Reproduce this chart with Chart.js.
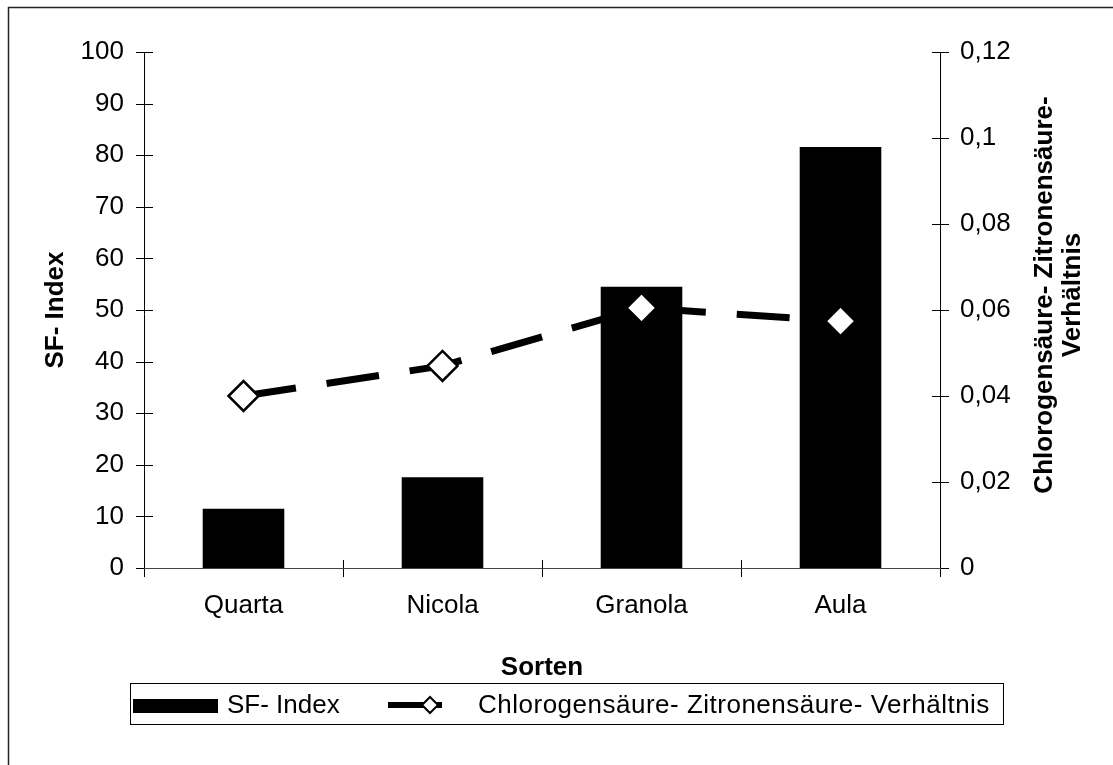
<!DOCTYPE html>
<html><head><meta charset="utf-8">
<script src="https://cdn.jsdelivr.net/npm/chart.js@4"></script>
<style>html,body{margin:0;padding:0;background:#fff;overflow:hidden}#wrap{position:relative;width:1113px;height:765px}</style>
</head><body><div id="wrap"><canvas id="c" width="1113" height="765"></canvas></div>
<script>
const categories = ['Quarta', 'Nicola', 'Granola', 'Aula'];
const sfIndex = [11.5, 17.6, 54.5, 81.6];
const ratio = [0.040, 0.047, 0.0605, 0.0574];
const leftTickLabels = ['0', '10', '20', '30', '40', '50', '60', '70', '80', '90', '100'];
const rightTickLabels = ['0', '0,02', '0,04', '0,06', '0,08', '0,1', '0,12'];
const seriesNames = ['SF- Index', 'Chlorogensäure- Zitronensäure- Verhältnis'];
const xTitle = 'Sorten';
const yLeftTitle = 'SF- Index';
const yRightTitle = ['Chlorogensäure- Zitronensäure-', 'Verhältnis'];

const FAM = '"Liberation Sans", Arial, sans-serif';
Chart.defaults.font.family = FAM;
Chart.defaults.color = '#000';

const deco = {
  id: 'deco',
  beforeDraw(chart) {
    const ctx = chart.ctx;
    ctx.save();
    ctx.fillStyle = '#fff';
    ctx.fillRect(0, 0, chart.width, chart.height);
    ctx.strokeStyle = '#222';
    ctx.lineWidth = 1.5;
    ctx.strokeRect(8.5, 7.5, 1300, 1000);
    ctx.restore();
  },
  beforeDatasetsDraw(chart) {
    const ctx = chart.ctx, ca = chart.chartArea;
    const x = chart.scales.x, y = chart.scales.y, y1 = chart.scales.y1;
    ctx.save();
    ctx.strokeStyle = '#000';
    ctx.lineWidth = 1;
    ctx.beginPath();
    ctx.moveTo(ca.left + 0.5, ca.top); ctx.lineTo(ca.left + 0.5, ca.bottom + 9);
    ctx.moveTo(ca.right + 0.5, ca.top); ctx.lineTo(ca.right + 0.5, ca.bottom + 9);
    y.ticks.forEach(t => { const p = Math.round(y.getPixelForValue(t.value)) + 0.5; ctx.moveTo(ca.left - 8, p); ctx.lineTo(ca.left + 9, p); });
    y1.ticks.forEach(t => { const p = Math.round(y1.getPixelForValue(t.value)) + 0.5; ctx.moveTo(ca.right - 8, p); ctx.lineTo(ca.right + 9, p); });
    for (let i = 1; i < categories.length; i++) {
      const p = Math.round((x.getPixelForValue(i - 1) + x.getPixelForValue(i)) / 2) + 0.5;
      ctx.moveTo(p, ca.bottom - 8); ctx.lineTo(p, ca.bottom + 9);
    }
    ctx.stroke();
    ctx.strokeStyle = '#444';
    ctx.beginPath();
    ctx.moveTo(ca.left, ca.bottom + 0.5); ctx.lineTo(ca.right + 1, ca.bottom + 0.5);
    ctx.stroke();
    ctx.restore();
  },
  afterDraw(chart) {
    const ctx = chart.ctx;
    const ds = chart.data.datasets;
    ctx.save();
    ctx.font = 'bold 26px ' + FAM;
    ctx.fillStyle = '#000';
    ctx.textAlign = 'center';
    ctx.textBaseline = 'middle';
    ctx.translate(1045, 295);
    ctx.rotate(-Math.PI / 2);
    yRightTitle.forEach((t, i) => ctx.fillText(t, 0, i * 28));
    ctx.restore();
    ctx.save();
    ctx.strokeStyle = '#000';
    ctx.lineWidth = 1;
    ctx.strokeRect(130.5, 683.5, 873, 41);
    ctx.fillStyle = ds[0].backgroundColor;
    ctx.fillRect(133, 699, 85, 14);
    ctx.font = '26px ' + FAM;
    ctx.fillStyle = '#000';
    ctx.textAlign = 'left';
    ctx.textBaseline = 'middle';
    ctx.fillText(ds[0].label, 227, 706);
    ctx.strokeStyle = ds[1].borderColor;
    ctx.lineWidth = 6;
    ctx.beginPath(); ctx.moveTo(388, 705); ctx.lineTo(442, 705); ctx.stroke();
    ctx.beginPath();
    const cx = 430, cy = 705, r = 8;
    ctx.moveTo(cx - r, cy); ctx.lineTo(cx, cy - r); ctx.lineTo(cx + r, cy); ctx.lineTo(cx, cy + r); ctx.closePath();
    ctx.fillStyle = ds[1].pointBackgroundColor; ctx.fill();
    ctx.lineWidth = 2; ctx.strokeStyle = ds[1].pointBorderColor; ctx.stroke();
    ctx.fillStyle = '#000';
    if ('letterSpacing' in ctx) ctx.letterSpacing = '0.5px';
    ctx.fillText(ds[1].label, 478, 706);
    ctx.restore();
  }
};

new Chart(document.getElementById('c'), {
  data: {
    labels: categories,
    datasets: [
      { type: 'bar', label: seriesNames[0], data: sfIndex, backgroundColor: '#000', yAxisID: 'y', order: 1,
        barPercentage: 0.41, categoryPercentage: 1 },
      { type: 'line', label: seriesNames[1], data: ratio, yAxisID: 'y1', order: 0,
        borderColor: '#000', borderWidth: 7, borderDash: [53, 31], tension: 0, fill: false,
        pointStyle: 'rectRot', pointRadius: 15, pointHoverRadius: 15,
        pointBackgroundColor: '#fff', pointBorderColor: '#000', pointBorderWidth: 2.5 }
    ]
  },
  options: {
    responsive: false, animation: false, devicePixelRatio: 1,
    layout: { padding: { left: 0, right: 0, top: 52, bottom: 0 } },
    plugins: { legend: { display: false }, tooltip: { enabled: false } },
    scales: {
      x: {
        grid: { display: false, drawTicks: false }, border: { display: false },
        ticks: { font: { size: 26 }, color: '#000', padding: 22, maxRotation: 0 },
        title: { display: true, text: xTitle, font: { size: 26, weight: 'bold' }, color: '#000', padding: { top: 0, bottom: 82 } },
        afterFit: s => { s.height = 197; }
      },
      y: {
        position: 'left', min: 0, max: 100,
        grid: { display: false, drawTicks: false }, border: { display: false },
        ticks: { stepSize: 10, font: { size: 26 }, color: '#000', padding: 20, callback: (v, i) => leftTickLabels[i] },
        title: { display: true, text: yLeftTitle, font: { size: 26, weight: 'bold' }, color: '#000', padding: { top: 40, bottom: 0 } },
        afterFit: s => { s.width = 144; }
      },
      y1: {
        position: 'right', min: 0, max: 0.12,
        grid: { display: false, drawTicks: false }, border: { display: false },
        ticks: { stepSize: 0.02, font: { size: 26 }, color: '#000', padding: 20, callback: (v, i) => rightTickLabels[i] },
        afterFit: s => { s.width = 173; }
      }
    }
  },
  plugins: [deco]
});
</script></body></html>
